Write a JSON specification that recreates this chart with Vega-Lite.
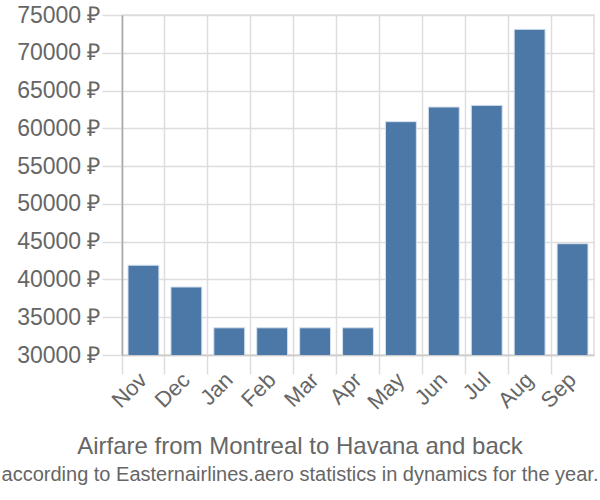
{
  "$schema": "https://vega.github.io/schema/vega-lite/v6.json",
  "autosize": "none",
  "width": 472,
  "height": 340,
  "padding": {"left": 122, "top": 15, "right": 6, "bottom": 145},
  "background": "white",
  "config": {
    "font": "Liberation Sans",
    "view": {"stroke": "#dddddd", "strokeWidth": 1.5}
  },
  "title": {
    "text": "Airfare from Montreal to Havana and back",
    "subtitle": "according to Easternairlines.aero statistics in dynamics for the year.",
    "orient": "bottom",
    "anchor": "middle",
    "dx": -58,
    "fontSize": 24,
    "fontWeight": "normal",
    "color": "#666666",
    "subtitleFont": "Liberation Sans",
    "subtitleFontSize": 20,
    "subtitleColor": "#666666",
    "subtitlePadding": 6,
    "offset": 22
  },
  "data": {
    "values": [
      {"month": "Nov", "price": 41880},
      {"month": "Dec", "price": 39000},
      {"month": "Jan", "price": 33600},
      {"month": "Feb", "price": 33600},
      {"month": "Mar", "price": 33600},
      {"month": "Apr", "price": 33600},
      {"month": "May", "price": 60880},
      {"month": "Jun", "price": 62820},
      {"month": "Jul", "price": 63040},
      {"month": "Aug", "price": 73100},
      {"month": "Sep", "price": 44730}
    ]
  },
  "mark": {
    "type": "bar",
    "clip": true,
    "width": {"band": 0.72},
    "fill": "#4c78a8",
    "stroke": "#d5e0ec",
    "strokeWidth": 1
  },
  "encoding": {
    "x": {
      "field": "month",
      "type": "nominal",
      "sort": null,
      "scale": {"paddingInner": 0, "paddingOuter": 0},
      "axis": {
        "title": null,
        "bandPosition": 0,
        "labelAngle": -45,
        "labelAlign": "right",
        "labelBaseline": "middle",
        "labelFontSize": 22,
        "labelColor": "#666666",
        "labelOffset": 0,
        "labelPadding": 2,
        "tickSize": 19,
        "tickColor": "#dddddd",
        "tickWidth": 1.5,
        "grid": true,
        "gridColor": "#dddddd",
        "gridWidth": 1.5,
        "domainColor": "#cccccc",
        "domainWidth": 1.5
      }
    },
    "y": {
      "field": "price",
      "type": "quantitative",
      "scale": {"domain": [30000, 75000], "nice": false, "zero": false},
      "axis": {
        "title": null,
        "values": [30000, 35000, 40000, 45000, 50000, 55000, 60000, 65000, 70000, 75000],
        "labelExpr": "datum.value + ' ₽'",
        "labelFontSize": 23,
        "labelColor": "#666666",
        "labelPadding": 2,
        "tickSize": 20,
        "tickColor": "#dddddd",
        "tickWidth": 1.5,
        "grid": true,
        "gridColor": "#dddddd",
        "gridWidth": 1.5,
        "domainColor": "#aaaaaa",
        "domainWidth": 1.5
      }
    }
  }
}
